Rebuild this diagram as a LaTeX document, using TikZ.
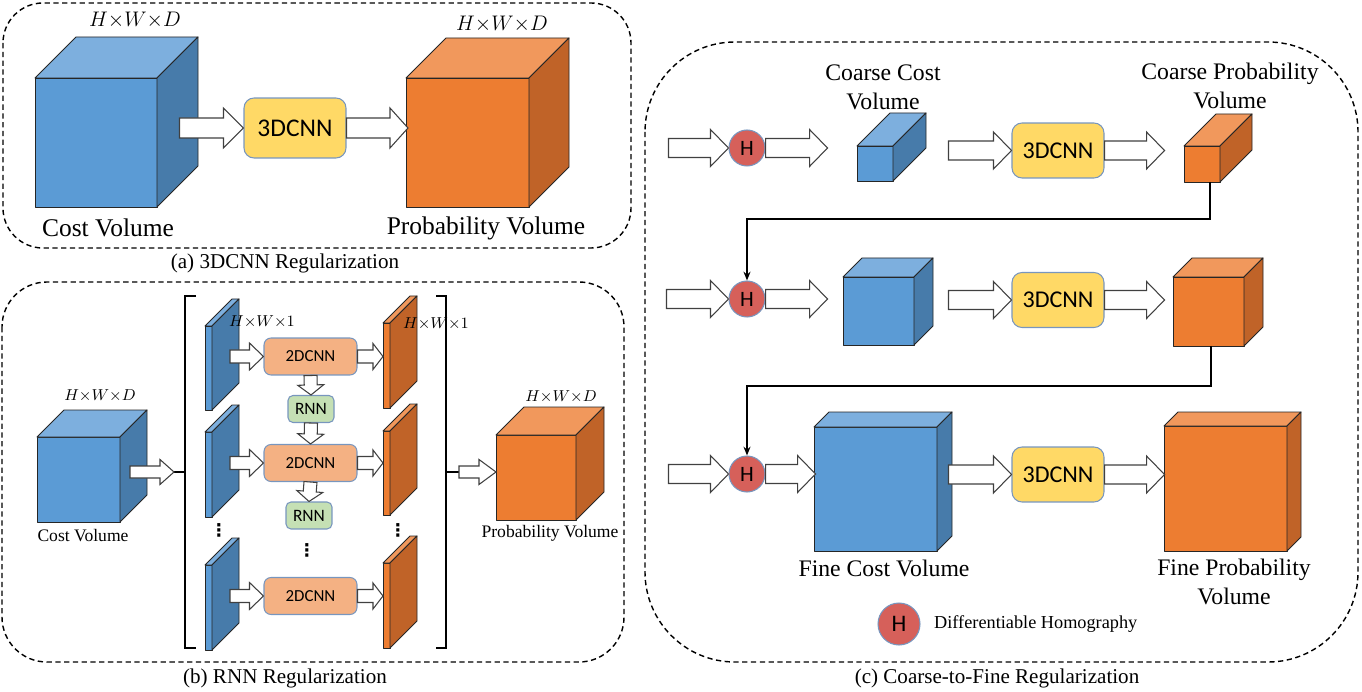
\documentclass[tikz,border=0pt]{standalone}
\usepackage{fontspec}
\setmainfont{Liberation Serif}
\newfontfamily\boxfont{Carlito}
\newfontfamily\dotfont{DejaVu Sans}
\usepackage{tikz}
\usetikzlibrary{calc}
\usetikzlibrary{arrows.meta}

\definecolor{bfront}{RGB}{91,155,213}
\definecolor{btop}{RGB}{125,175,222}
\definecolor{bside}{RGB}{71,123,170}
\definecolor{ofront}{RGB}{237,125,49}
\definecolor{otop}{RGB}{241,152,92}
\definecolor{oside}{RGB}{192,99,40}
\definecolor{cnnyellow}{RGB}{255,217,102}
\definecolor{cnnorange}{RGB}{244,177,131}
\definecolor{rnngreen}{RGB}{197,224,180}
\definecolor{hred}{RGB}{214,96,90}
\definecolor{boxline}{RGB}{120,150,190}

\tikzset{
    panel/.style={line width=0.8pt, dash pattern=on 3pt off 2pt},
    caption/.style={font=\fontsize{12}{14}\selectfont},
    biglbl/.style={font=\fontsize{14.5}{17}\selectfont},
    midlbl/.style={font=\fontsize{13.5}{16.4}\selectfont, align=center},
    smalllbl/.style={font=\fontsize{10}{12}\selectfont},
    dimlbl/.style={font=\fontsize{13}{15}\selectfont},
    dimsmall/.style={font=\fontsize{9}{11}\selectfont},
    cubeedge/.style={draw=black!85, line width=0.5pt, line join=round},
    blockarrow/.style={draw=black!75, fill=white, line width=0.6pt, line join=miter},
    cnnbox/.style={draw=boxline, fill=cnnyellow, rounded corners=0.2cm, line width=0.6pt,
        inner sep=0pt, font=\boxfont\fontsize{14.5}{16}\selectfont},
    cnnsmall/.style={draw=boxline, fill=cnnorange, rounded corners=0.14cm, line width=0.6pt,
        inner sep=0pt, minimum width=1.86cm, minimum height=0.74cm, font=\boxfont\fontsize{9.6}{11}\selectfont},
    rnnbox/.style={draw=boxline, fill=rnngreen, rounded corners=0.1cm, line width=0.6pt,
        inner sep=0pt, minimum width=0.92cm, minimum height=0.54cm, font=\boxfont\fontsize{9.9}{11}\selectfont},
    hnode/.style={circle, draw=boxline, fill=hred, line width=0.6pt, inner sep=0pt,
        minimum size=0.72cm, font=\boxfont\fontsize{12.5}{13}\selectfont},
    bracket/.style={line width=0.8pt},
    link/.style={line width=1.2pt, -{Stealth[length=5pt,width=4pt]}},
    dots/.style={inner sep=0pt, font=\dotfont\bfseries\fontsize{10}{10}\selectfont},
}

% name, left, top, width, height, depth, colour (b or o)
\newcommand{\volcube}[7]{%
    \node[cubeedge, fill=#7front, inner sep=0pt, outer sep=0pt, anchor=north west,
        minimum width=#4*0.02cm, minimum height=#5*0.02cm] (#1) at (#2,#3) {};
    \draw[cubeedge, fill=#7top] (#1.north west) -- ++(#6,-#6) -- ($(#1.north east)+(#6,-#6)$) -- (#1.north east) -- cycle;
    \draw[cubeedge, fill=#7side] (#1.north east) -- ++(#6,-#6) -- ($(#1.south east)+(#6,-#6)$) -- (#1.south east) -- cycle;
}

% shaft half width, head half width, head length, from, to
\newcommand{\blockarr}[5]{%
    \path #4 coordinate (ba) #5 coordinate (bb);
    \coordinate (bh) at ($(bb)!#3*0.02cm!(ba)$);
    \draw[blockarrow] ($(ba)!#1*0.02cm!90:(bb)$) -- ($(bh)!#1*0.02cm!90:(bb)$) -- ($(bh)!#2*0.02cm!90:(bb)$)
        -- (bb) -- ($(bh)!#2*0.02cm!-90:(bb)$) -- ($(bh)!#1*0.02cm!-90:(bb)$) -- ($(ba)!#1*0.02cm!-90:(bb)$) -- cycle;
}

\begin{document}
\begin{tikzpicture}[x=0.02cm, y=-0.02cm]
    \useasboundingbox (0,0) rectangle (1362,692);

    % (a)
    \draw[panel, rounded corners=0.8cm] (3,3) rectangle (631,248);
    \node[caption] (capa) at (285,263) {(a) 3DCNN Regularization};

    \volcube{cva}{35}{78}{122}{129}{41}{b}
    \volcube{pva}{406}{78}{123}{129}{40}{o}
    \node[dimlbl] (dcva) at (135,20) {$H{\times}W{\times}D$};
    \node[dimlbl] (dpva) at (502,24) {$H{\times}W{\times}D$};
    \node[biglbl] (tcva) at (108,228) {Cost Volume};
    \node[biglbl] (tpva) at (486,228) {Probability Volume};

    \node[cnnbox, minimum width=2.04cm, minimum height=1.2cm] (cnna) at (295,128) {3DCNN};
    \blockarr{10}{20}{20}{($(cnna.west)+(-64,0)$)}{(cnna.west)}
    \blockarr{10}{20}{18}{(cnna.east)}{($(cnna.east -| pva.west)+(2,0)$)}

    % (b)
    \draw[panel, rounded corners=0.9cm] (2,282) rectangle (624,662);
    \node[caption] (capb) at (285,678) {(b) RNN Regularization};

    \volcube{cvb}{37}{437}{83}{85}{27}{b}
    \volcube{pvb}{496}{435}{80}{85}{28}{o}
    \node[dimsmall] (dcvb) at (100,396) {$H{\times}W{\times}D$};
    \node[dimsmall] (dpvb) at (561,397) {$H{\times}W{\times}D$};
    \node[smalllbl] (tcvb) at (83,536) {Cost Volume};
    \node[smalllbl] (tpvb) at (550,533) {Probability Volume};

    \volcube{sb1}{205}{326}{7}{84}{27}{b}
    \volcube{sb2}{205}{432}{7}{85}{27}{b}
    \volcube{sb3}{205}{565}{7}{85}{27}{b}
    \volcube{so1}{383}{323}{7}{85}{27}{o}
    \volcube{so2}{383}{431}{7}{84}{27}{o}
    \volcube{so3}{383}{563}{7}{85}{27}{o}
    \node[dimsmall] (dsb) at (262,322) {$H{\times}W{\times}1$};
    \node[dimsmall] (dso) at (436,324) {$H{\times}W{\times}1$};

    \node[cnnsmall] (cnn1) at (310.5,356.5) {2DCNN};
    \node[cnnsmall] (cnn2) at (310.5,463) {2DCNN};
    \node[cnnsmall] (cnn3) at (310.5,596) {2DCNN};
    \node[rnnbox] (rnn1) at (311,409) {RNN};
    \node[rnnbox] (rnn2) at (309,515.5) {RNN};

    \blockarr{6.5}{13.5}{14}{($(cnn1.west -| sb1.east)+(18,0)$)}{(cnn1.west)}
    \blockarr{6.5}{13.5}{14}{($(cnn2.west -| sb2.east)+(18,0)$)}{(cnn2.west)}
    \blockarr{6.5}{13.5}{14}{($(cnn3.west -| sb3.east)+(18,0)$)}{(cnn3.west)}
    \blockarr{6.5}{13}{10}{(cnn1.east)}{(cnn1.east -| so1.west)}
    \blockarr{6.5}{13}{10}{(cnn2.east)}{(cnn2.east -| so2.west)}
    \blockarr{6.5}{13}{10}{(cnn3.east)}{(cnn3.east -| so3.west)}
    \blockarr{6.5}{13}{10}{(cnn1.south)}{(rnn1.north)}
    \blockarr{6.5}{13}{10}{(rnn1.south)}{(cnn2.north)}
    \blockarr{6.5}{13}{10}{(cnn2.south)}{(rnn2.north)}

    \node[dots] (dl) at (219,530) {⋮};
    \node[dots] (dm) at (307,550) {⋮};
    \node[dots] (dr) at (398,530) {⋮};

    \coordinate (lbr) at (174,472);
    \coordinate (rbr) at (459,472);
    \draw[bracket] (196,296) -- (185,296) -- (185,648) -- (196,648);
    \draw[bracket] (185,472) -- (lbr);
    \draw[bracket] (436,296) -- (446,296) -- (446,648) -- (436,648);
    \draw[bracket] (446,472) -- (rbr);
    \blockarr{6}{12.5}{14}{($(cvb.east)+(10,-7.5)$)}{(lbr)}
    \blockarr{6}{12.5}{17}{(rbr)}{(rbr -| pvb.west)}

    % (c)
    \draw[panel, rounded corners=1.8cm] (645,42) rectangle (1358,662);
    \node[caption] (capc) at (997,678) {(c) Coarse-to-Fine Regularization};

    \node[hnode] (h1) at (747,148) {H};
    \node[hnode] (h2) at (747,299) {H};
    \node[hnode] (h3) at (747,474) {H};

    \volcube{cc1}{857}{146}{36}{35}{33}{b}
    \volcube{cp1}{1184}{146}{36}{36}{32}{o}
    \volcube{cc2}{843}{277}{71}{68}{19}{b}
    \volcube{cp2}{1173}{277}{71}{69}{19}{o}
    \volcube{cc3}{814}{427}{123}{124}{15}{b}
    \volcube{cp3}{1164}{426}{123}{125}{14}{o}

    \node[midlbl] (tcc1) at (883,87) {Coarse Cost\\Volume};
    \node[midlbl] (tcp1) at (1230,86) {Coarse Probability\\Volume};
    \node[midlbl] (tcc3) at (884,568) {Fine Cost Volume};
    \node[midlbl] (tcp3) at (1234,582) {Fine Probability\\Volume};

    \node[cnnbox, minimum width=1.84cm, minimum height=1.1cm, font=\boxfont\fontsize{13.7}{15}\selectfont] (cnnc1) at (1058,150.5) {3DCNN};
    \node[cnnbox, minimum width=1.84cm, minimum height=1.1cm, font=\boxfont\fontsize{13.7}{15}\selectfont] (cnnc2) at (1058,300) {3DCNN};
    \node[cnnbox, minimum width=1.84cm, minimum height=1.1cm, font=\boxfont\fontsize{13.7}{15}\selectfont] (cnnc3) at (1058,474.5) {3DCNN};

    \blockarr{9.5}{18.5}{18}{($(h1.west)+(-60,0)$)}{(h1.west)}
    \blockarr{9.5}{18.5}{18}{($(h2.west)+(-62,0)$)}{(h2.west)}
    \blockarr{9.5}{18.5}{18}{($(h3.west)+(-60,0)$)}{(h3.west)}
    \blockarr{9.5}{18.5}{18}{(h1.east)}{($(h1.east)+(62,0)$)}
    \blockarr{9.5}{18.5}{18}{(h2.east)}{($(h2.east)+(62,0)$)}
    \blockarr{9.5}{18.5}{18}{(h3.east)}{($(h3.east)+(50,0)$)}
    \blockarr{9.5}{18.5}{18}{($(cnnc1.west)+(-63,0)$)}{(cnnc1.west)}
    \blockarr{9.5}{18.5}{18}{($(cnnc2.west)+(-63,0)$)}{(cnnc2.west)}
    \blockarr{9.5}{18.5}{18}{($(cnnc3.west)+(-63,0)$)}{(cnnc3.west)}
    \blockarr{9.5}{18.5}{18}{(cnnc1.east)}{($(cnnc1.east)+(60,0)$)}
    \blockarr{9.5}{18.5}{18}{(cnnc2.east)}{($(cnnc2.east)+(60,0)$)}
    \blockarr{9.5}{18.5}{18}{(cnnc3.east)}{($(cnnc3.east)+(60,0)$)}

    \coordinate (k1) at (747,219);
    \coordinate (k2) at (747,386);
    \draw[link] ([xshift=0.16cm]cp1.south) |- (k1) -- (h2.north);
    \draw[link] ([xshift=0.05cm]cp2.south) |- (k2) -- (h3.north);

    \node[hnode, minimum size=0.84cm, font=\boxfont\fontsize{13.5}{14}\selectfont] (hl) at (899,624) {H};
    \node[smalllbl, anchor=west, font=\fontsize{10.4}{12}\selectfont] (thl) at (928,624) {Differentiable Homography};
\end{tikzpicture}
\end{document}
